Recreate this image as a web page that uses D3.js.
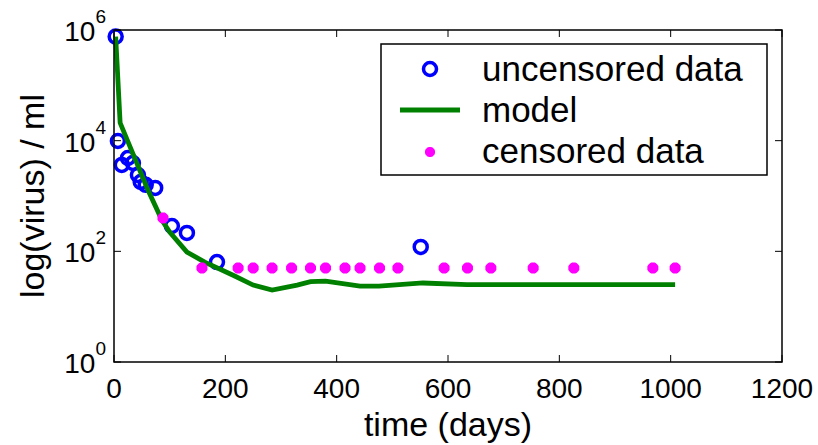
<!DOCTYPE html>
<html>
<head>
<meta charset="utf-8">
<script src="https://cdn.jsdelivr.net/npm/d3@7"></script>
<style>
  body { margin: 0; background: #fff; }
  text { font-family: "Liberation Sans", Arial, sans-serif; fill: #000; }
</style>
</head>
<body>
<script>
// measured (uncensored) viral loads
var uncensoredDays = [3, 7, 14, 25, 34, 43, 48, 57, 74, 104, 131, 185, 551];
var uncensoredVirus = [760000, 9870, 3650, 4860, 3950, 2400, 1790, 1590, 1400, 287, 215, 64, 120];

// censored values (below detection limit)
var censoredDays = [88, 158, 223, 250, 284, 319, 353, 380, 415, 442, 477, 510, 593, 635, 677, 753, 826, 968, 1008];
var censoredVirus = [400, 50, 50, 50, 50, 50, 50, 50, 50, 50, 50, 50, 50, 50, 50, 50, 50, 50, 50];

// model fit
var modelDays = [3, 11, 61, 86, 100, 131, 163, 214, 250, 284, 329, 353, 380, 442, 476, 555, 634, 753, 1008];
var modelVirus = [760000, 21000, 1285, 368, 224, 97, 64, 37, 24.6, 20, 24.6, 28.3, 29, 23.6, 23.6, 26.8, 25, 25, 25];

var xTicks = [0, 200, 400, 600, 800, 1000, 1200];
var yTicks = [1, 100, 10000, 1000000];

var width = 818, height = 445;
var margin = {top: 30, right: 36, bottom: 83, left: 114};

var svg = d3.select("body").append("svg")
    .attr("width", width)
    .attr("height", height);

var x = d3.scaleLinear().domain([0, 1200]).range([margin.left, width - margin.right]);
var y = d3.scaleLog().domain([1, 1e6]).range([height - margin.bottom, margin.top]);

var x0 = x.range()[0], x1 = x.range()[1];
var y0 = y.range()[0], y1 = y.range()[1];

// uncensored circles
svg.append("g").selectAll("circle")
    .data(uncensoredDays)
  .enter().append("circle")
    .attr("cx", function(d) { return x(d); })
    .attr("cy", function(d, i) { return y(uncensoredVirus[i]); })
    .attr("r", 6.5)
    .attr("fill", "none")
    .attr("stroke", "#0000ff")
    .attr("stroke-width", 3.5);

// model line
var line = d3.line()
    .x(function(d) { return x(d); })
    .y(function(d, i) { return y(modelVirus[i]); });

svg.append("path")
    .datum(modelDays)
    .attr("d", line)
    .attr("fill", "none")
    .attr("stroke", "#008000")
    .attr("stroke-width", 4.8);

// censored star markers (thick asterisk, looks like a blob)
function star(r) {
  var p = "";
  for (var k = 0; k < 4; k++) {
    var a = k * Math.PI / 4;
    p += "M" + (-r * Math.cos(a)) + "," + (-r * Math.sin(a)) + "L" + (r * Math.cos(a)) + "," + (r * Math.sin(a));
  }
  return p;
}

var cs = svg.append("g").selectAll("g")
    .data(censoredDays)
  .enter().append("g")
    .attr("transform", function(d, i) { return "translate(" + x(d) + "," + y(censoredVirus[i]) + ")"; });
cs.append("circle").attr("r", 4.5).attr("fill", "#ff00ff");
cs.append("path")
    .attr("d", star(5.5))
    .attr("fill", "none")
    .attr("stroke", "#ff00ff")
    .attr("stroke-width", 4);

// axes box
svg.append("rect")
    .attr("x", x0).attr("y", y1)
    .attr("width", x1 - x0).attr("height", y0 - y1)
    .attr("fill", "none")
    .attr("stroke", "#000")
    .attr("stroke-width", 1.5);

// inward ticks on all four sides
var tl = 7;
xTicks.forEach(function(t) {
  svg.append("line").attr("x1", x(t)).attr("x2", x(t)).attr("y1", y0).attr("y2", y0 - tl)
      .attr("stroke", "#000").attr("stroke-width", 1);
  svg.append("line").attr("x1", x(t)).attr("x2", x(t)).attr("y1", y1).attr("y2", y1 + tl)
      .attr("stroke", "#000").attr("stroke-width", 1);
  svg.append("text")
      .attr("x", x(t)).attr("y", y0 + 36)
      .attr("text-anchor", "middle")
      .style("font-size", "28px")
      .text(t);
});

yTicks.forEach(function(t) {
  svg.append("line").attr("x1", x0).attr("x2", x0 + tl).attr("y1", y(t)).attr("y2", y(t))
      .attr("stroke", "#000").attr("stroke-width", 1);
  svg.append("line").attr("x1", x1).attr("x2", x1 - tl).attr("y1", y(t)).attr("y2", y(t))
      .attr("stroke", "#000").attr("stroke-width", 1);
  var lab = svg.append("text")
      .attr("x", x0 - 8).attr("y", y(t) + 11)
      .attr("text-anchor", "end")
      .style("font-size", "28px");
  lab.append("tspan").text("10");
  lab.append("tspan").attr("dy", -18).style("font-size", "19px").text(Math.round(Math.log10(t)));
});

// axis titles
svg.append("text")
    .attr("x", (x0 + x1) / 2).attr("y", 436)
    .attr("text-anchor", "middle")
    .style("font-size", "34px")
    .text("time (days)");

svg.append("text")
    .attr("transform", "translate(44," + (y0 + y1) / 2 + ") rotate(-90)")
    .attr("text-anchor", "middle")
    .style("font-size", "34px")
    .text("log(virus) / ml");

// legend
var lg = svg.append("g");
lg.append("rect")
    .attr("x", 381).attr("y", 44)
    .attr("width", 386).attr("height", 131)
    .attr("fill", "#fff")
    .attr("stroke", "#000")
    .attr("stroke-width", 1.5);

lg.append("circle")
    .attr("cx", 430).attr("cy", 69).attr("r", 6.5)
    .attr("fill", "none").attr("stroke", "#0000ff").attr("stroke-width", 3.5);
lg.append("line")
    .attr("x1", 400).attr("x2", 460).attr("y1", 110).attr("y2", 110)
    .attr("stroke", "#008000").attr("stroke-width", 4.8);
lg.append("circle").attr("cx", 430).attr("cy", 152).attr("r", 4).attr("fill", "#ff00ff");
lg.append("path")
    .attr("transform", "translate(430,152)")
    .attr("d", star(5))
    .attr("fill", "none")
    .attr("stroke", "#ff00ff").attr("stroke-width", 3.5);

var legendLabels = ["uncensored data", "model", "censored data"];
var legendY = [81, 122, 163];
legendLabels.forEach(function(s, i) {
  lg.append("text")
      .attr("x", 482).attr("y", legendY[i])
      .style("font-size", "35px")
      .text(s);
});
</script>
</body>
</html>
